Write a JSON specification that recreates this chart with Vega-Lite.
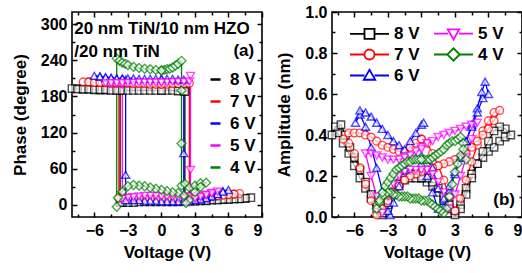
{
"$schema":"https://vega.github.io/schema/vega-lite/v6.json",
"background":"white",
"padding":{"left":10,"top":3,"right":0,"bottom":0},
"spacing":70,
"bounds":"flush",
"resolve":{"scale":{"color":"independent"},"legend":{"color":"independent"}},
"config":{
"font":"Liberation Sans",
"view":{"stroke":"black","strokeWidth":1.6},
"axis":{"grid":false,"domain":false,"labelFont":"Liberation Sans","labelFontSize":16,"labelFontWeight":"bold","labelColor":"black","titleFont":"Liberation Sans","titleFontSize":17,"titleFontWeight":"bold","titleColor":"black","tickColor":"black","tickWidth":1.5,"tickSize":-5,"labelPadding":10,"titlePadding":6},
"legend":{"labelFont":"Liberation Sans","labelFontSize":17,"labelFontWeight":"bold","labelColor":"black","padding":0}
},
"datasets":{
"pa":[
{"s":"8 V","v":0,"y":190},{"s":"8 V","v":0.5,"y":190},{"s":"8 V","v":1,"y":190},{"s":"8 V","v":1.5,"y":189},{"s":"8 V","v":2,"y":189},{"s":"8 V","v":2.1,"y":188},{"s":"8 V","v":2.1,"y":9},{"s":"8 V","v":2.5,"y":8},{"s":"8 V","v":3,"y":8},{"s":"8 V","v":3.5,"y":8},{"s":"8 V","v":4,"y":8},{"s":"8 V","v":4.5,"y":9},{"s":"8 V","v":5,"y":9},{"s":"8 V","v":5.5,"y":9},{"s":"8 V","v":6,"y":10},{"s":"8 V","v":6.5,"y":10},{"s":"8 V","v":7,"y":11},{"s":"8 V","v":7.5,"y":11},{"s":"8 V","v":8,"y":12},
{"s":"8 V","v":7.5,"y":11},{"s":"8 V","v":7,"y":10},{"s":"8 V","v":6.5,"y":10},{"s":"8 V","v":6,"y":9},{"s":"8 V","v":5.5,"y":9},{"s":"8 V","v":5,"y":8},{"s":"8 V","v":4.5,"y":8},{"s":"8 V","v":4,"y":7},{"s":"8 V","v":3.5,"y":7},{"s":"8 V","v":3,"y":6},{"s":"8 V","v":2.5,"y":6},{"s":"8 V","v":2,"y":6},{"s":"8 V","v":1.5,"y":5},{"s":"8 V","v":1,"y":5},{"s":"8 V","v":0.5,"y":5},{"s":"8 V","v":0,"y":5},{"s":"8 V","v":-0.5,"y":5},{"s":"8 V","v":-1,"y":5},{"s":"8 V","v":-1.5,"y":5},{"s":"8 V","v":-2,"y":5},{"s":"8 V","v":-2.5,"y":4},{"s":"8 V","v":-3,"y":4},{"s":"8 V","v":-3.5,"y":4},{"s":"8 V","v":-3.7,"y":4},{"s":"8 V","v":-3.7,"y":190},{"s":"8 V","v":-4,"y":191},{"s":"8 V","v":-4.5,"y":191},{"s":"8 V","v":-5,"y":191},{"s":"8 V","v":-5.5,"y":191},{"s":"8 V","v":-6,"y":192},{"s":"8 V","v":-6.5,"y":192},{"s":"8 V","v":-7,"y":192},{"s":"8 V","v":-7.5,"y":193},{"s":"8 V","v":-8,"y":193},
{"s":"8 V","v":-7.5,"y":192},{"s":"8 V","v":-7,"y":192},{"s":"8 V","v":-6.5,"y":192},{"s":"8 V","v":-6,"y":191},{"s":"8 V","v":-5.5,"y":191},{"s":"8 V","v":-5,"y":191},{"s":"8 V","v":-4.5,"y":190},{"s":"8 V","v":-4,"y":190},{"s":"8 V","v":-3.5,"y":190},{"s":"8 V","v":-3,"y":190},{"s":"8 V","v":-2.5,"y":190},{"s":"8 V","v":-2,"y":190},{"s":"8 V","v":-1.5,"y":190},{"s":"8 V","v":-1,"y":190},{"s":"8 V","v":-0.5,"y":190},{"s":"8 V","v":0,"y":190},
{"s":"7 V","v":0,"y":200},{"s":"7 V","v":0.5,"y":200},{"s":"7 V","v":1,"y":201},{"s":"7 V","v":1.5,"y":201},{"s":"7 V","v":2,"y":201},{"s":"7 V","v":2.5,"y":202},{"s":"7 V","v":2.5,"y":14},{"s":"7 V","v":3,"y":13},{"s":"7 V","v":3.5,"y":13},{"s":"7 V","v":4,"y":14},{"s":"7 V","v":4.5,"y":15},{"s":"7 V","v":5,"y":16},{"s":"7 V","v":5.5,"y":17},{"s":"7 V","v":6,"y":18},{"s":"7 V","v":6.5,"y":18},{"s":"7 V","v":7,"y":19},
{"s":"7 V","v":6.5,"y":18},{"s":"7 V","v":6,"y":17},{"s":"7 V","v":5.5,"y":16},{"s":"7 V","v":5,"y":15},{"s":"7 V","v":4.5,"y":14},{"s":"7 V","v":4,"y":13},{"s":"7 V","v":3.5,"y":12},{"s":"7 V","v":3,"y":12},{"s":"7 V","v":2.5,"y":11},{"s":"7 V","v":2,"y":11},{"s":"7 V","v":1.5,"y":10},{"s":"7 V","v":1,"y":10},{"s":"7 V","v":0.5,"y":10},{"s":"7 V","v":0,"y":10},{"s":"7 V","v":-0.5,"y":10},{"s":"7 V","v":-1,"y":10},{"s":"7 V","v":-1.5,"y":11},{"s":"7 V","v":-2,"y":11},{"s":"7 V","v":-2.5,"y":11},{"s":"7 V","v":-3,"y":11},{"s":"7 V","v":-3.5,"y":11},{"s":"7 V","v":-3.8,"y":11},{"s":"7 V","v":-3.8,"y":203},{"s":"7 V","v":-4,"y":203},{"s":"7 V","v":-4.5,"y":203},{"s":"7 V","v":-5,"y":203},{"s":"7 V","v":-5.5,"y":203},{"s":"7 V","v":-6,"y":203},{"s":"7 V","v":-6.5,"y":204},{"s":"7 V","v":-7,"y":204},
{"s":"7 V","v":-6.5,"y":204},{"s":"7 V","v":-6,"y":203},{"s":"7 V","v":-5.5,"y":203},{"s":"7 V","v":-5,"y":203},{"s":"7 V","v":-4.5,"y":202},{"s":"7 V","v":-4,"y":202},{"s":"7 V","v":-3.5,"y":202},{"s":"7 V","v":-3,"y":202},{"s":"7 V","v":-2.5,"y":201},{"s":"7 V","v":-2,"y":201},{"s":"7 V","v":-1.5,"y":201},{"s":"7 V","v":-1,"y":200},{"s":"7 V","v":-0.5,"y":200},{"s":"7 V","v":0,"y":200},
{"s":"6 V","v":0,"y":209},{"s":"6 V","v":0.5,"y":209},{"s":"6 V","v":1,"y":209},{"s":"6 V","v":1.5,"y":208},{"s":"6 V","v":2,"y":208},{"s":"6 V","v":2,"y":86},{"s":"6 V","v":2,"y":9},{"s":"6 V","v":2.5,"y":9},{"s":"6 V","v":3,"y":10},{"s":"6 V","v":3.5,"y":11},{"s":"6 V","v":4,"y":13},{"s":"6 V","v":4.5,"y":16},{"s":"6 V","v":5,"y":19},{"s":"6 V","v":5.5,"y":23},{"s":"6 V","v":6,"y":25},
{"s":"6 V","v":5.5,"y":22},{"s":"6 V","v":5,"y":18},{"s":"6 V","v":4.5,"y":14},{"s":"6 V","v":4,"y":11},{"s":"6 V","v":3.5,"y":9},{"s":"6 V","v":3,"y":8},{"s":"6 V","v":2.5,"y":7},{"s":"6 V","v":2,"y":6},{"s":"6 V","v":1.5,"y":6},{"s":"6 V","v":1,"y":6},{"s":"6 V","v":0.5,"y":6},{"s":"6 V","v":0,"y":6},{"s":"6 V","v":-0.5,"y":7},{"s":"6 V","v":-1,"y":7},{"s":"6 V","v":-1.5,"y":7},{"s":"6 V","v":-2,"y":8},{"s":"6 V","v":-2.5,"y":8},{"s":"6 V","v":-3,"y":8},{"s":"6 V","v":-3.2,"y":8},{"s":"6 V","v":-3.2,"y":50},{"s":"6 V","v":-3.2,"y":208},{"s":"6 V","v":-3.5,"y":209},{"s":"6 V","v":-4,"y":209},{"s":"6 V","v":-4.5,"y":210},{"s":"6 V","v":-5,"y":211},{"s":"6 V","v":-5.5,"y":213},{"s":"6 V","v":-6,"y":214},
{"s":"6 V","v":-5.5,"y":213},{"s":"6 V","v":-5,"y":212},{"s":"6 V","v":-4.5,"y":211},{"s":"6 V","v":-4,"y":210},{"s":"6 V","v":-3.5,"y":210},{"s":"6 V","v":-3,"y":210},{"s":"6 V","v":-2.5,"y":210},{"s":"6 V","v":-2,"y":209},{"s":"6 V","v":-1.5,"y":209},{"s":"6 V","v":-1,"y":209},{"s":"6 V","v":-0.5,"y":209},{"s":"6 V","v":0,"y":209},
{"s":"5 V","v":0,"y":203},{"s":"5 V","v":0.5,"y":203},{"s":"5 V","v":1,"y":204},{"s":"5 V","v":1.5,"y":204},{"s":"5 V","v":2,"y":204},{"s":"5 V","v":2.5,"y":205},{"s":"5 V","v":2.6,"y":214},{"s":"5 V","v":2.6,"y":58},{"s":"5 V","v":2.6,"y":14},{"s":"5 V","v":3,"y":13},{"s":"5 V","v":3.5,"y":15},{"s":"5 V","v":4,"y":17},{"s":"5 V","v":4.5,"y":20},{"s":"5 V","v":5,"y":22},
{"s":"5 V","v":4.5,"y":19},{"s":"5 V","v":4,"y":16},{"s":"5 V","v":3.5,"y":13},{"s":"5 V","v":3,"y":10},{"s":"5 V","v":2.5,"y":4},{"s":"5 V","v":2,"y":10},{"s":"5 V","v":1.5,"y":12},{"s":"5 V","v":1,"y":13},{"s":"5 V","v":0.5,"y":14},{"s":"5 V","v":0,"y":14},{"s":"5 V","v":-0.5,"y":15},{"s":"5 V","v":-1,"y":15},{"s":"5 V","v":-1.5,"y":15},{"s":"5 V","v":-2,"y":14},{"s":"5 V","v":-2.5,"y":13},{"s":"5 V","v":-3,"y":12},{"s":"5 V","v":-3.5,"y":10},{"s":"5 V","v":-3.5,"y":200},{"s":"5 V","v":-4,"y":201},{"s":"5 V","v":-4.5,"y":201},{"s":"5 V","v":-5,"y":202},
{"s":"5 V","v":-4.5,"y":202},{"s":"5 V","v":-4,"y":202},{"s":"5 V","v":-3.5,"y":202},{"s":"5 V","v":-3,"y":202},{"s":"5 V","v":-2.5,"y":202},{"s":"5 V","v":-2,"y":203},{"s":"5 V","v":-1.5,"y":203},{"s":"5 V","v":-1,"y":203},{"s":"5 V","v":-0.5,"y":203},{"s":"5 V","v":0,"y":203},
{"s":"4 V","v":0,"y":223},{"s":"4 V","v":0.25,"y":224},{"s":"4 V","v":0.5,"y":225},{"s":"4 V","v":0.75,"y":226},{"s":"4 V","v":1,"y":228},{"s":"4 V","v":1.25,"y":231},{"s":"4 V","v":1.5,"y":234},{"s":"4 V","v":1.8,"y":239},{"s":"4 V","v":1.8,"y":190},{"s":"4 V","v":1.8,"y":102},{"s":"4 V","v":1.8,"y":32},{"s":"4 V","v":2.1,"y":35},{"s":"4 V","v":2.5,"y":29},{"s":"4 V","v":3,"y":32},{"s":"4 V","v":3.5,"y":36},{"s":"4 V","v":4,"y":37},
{"s":"4 V","v":3.5,"y":30},{"s":"4 V","v":3,"y":21},{"s":"4 V","v":2.5,"y":8},{"s":"4 V","v":2.2,"y":3},{"s":"4 V","v":2,"y":16},{"s":"4 V","v":1.5,"y":20},{"s":"4 V","v":1,"y":21},{"s":"4 V","v":0.5,"y":23},{"s":"4 V","v":0,"y":25},{"s":"4 V","v":-0.5,"y":27},{"s":"4 V","v":-1,"y":29},{"s":"4 V","v":-1.5,"y":31},{"s":"4 V","v":-2,"y":32},{"s":"4 V","v":-2.5,"y":33},{"s":"4 V","v":-3,"y":31},{"s":"4 V","v":-3.5,"y":22},{"s":"4 V","v":-3.9,"y":12},{"s":"4 V","v":-4,"y":-3},{"s":"4 V","v":-4,"y":243},
{"s":"4 V","v":-3.75,"y":239},{"s":"4 V","v":-3.5,"y":236},{"s":"4 V","v":-3.25,"y":234},{"s":"4 V","v":-3,"y":232},{"s":"4 V","v":-2.5,"y":229},{"s":"4 V","v":-2,"y":227},{"s":"4 V","v":-1.5,"y":226},{"s":"4 V","v":-1,"y":225},{"s":"4 V","v":-0.5,"y":224},{"s":"4 V","v":0,"y":223}
],
"pb":[
{"s":"8 V","v":0,"y":0.19},{"s":"8 V","v":0.5,"y":0.17},{"s":"8 V","v":1,"y":0.15},{"s":"8 V","v":1.5,"y":0.12},{"s":"8 V","v":2,"y":0.08},{"s":"8 V","v":2.5,"y":0.04},{"s":"8 V","v":3,"y":0.01},{"s":"8 V","v":3.5,"y":0.06},{"s":"8 V","v":4,"y":0.14},{"s":"8 V","v":4.5,"y":0.21},{"s":"8 V","v":5,"y":0.26},{"s":"8 V","v":5.5,"y":0.29},{"s":"8 V","v":6,"y":0.32},{"s":"8 V","v":6.5,"y":0.34},{"s":"8 V","v":7,"y":0.37},{"s":"8 V","v":7.5,"y":0.39},{"s":"8 V","v":8,"y":0.4},
{"s":"8 V","v":7.5,"y":0.43},{"s":"8 V","v":7,"y":0.44},{"s":"8 V","v":6.5,"y":0.42},{"s":"8 V","v":6,"y":0.37},{"s":"8 V","v":5.5,"y":0.32},{"s":"8 V","v":5,"y":0.26},{"s":"8 V","v":4.5,"y":0.19},{"s":"8 V","v":4,"y":0.11},{"s":"8 V","v":3.5,"y":0.04},{"s":"8 V","v":3,"y":0.03},{"s":"8 V","v":2.5,"y":0.06},{"s":"8 V","v":2,"y":0.1},{"s":"8 V","v":1.5,"y":0.14},{"s":"8 V","v":1,"y":0.17},{"s":"8 V","v":0.5,"y":0.19},{"s":"8 V","v":0,"y":0.2},{"s":"8 V","v":-0.5,"y":0.21},{"s":"8 V","v":-1,"y":0.21},{"s":"8 V","v":-1.5,"y":0.19},{"s":"8 V","v":-2,"y":0.16},{"s":"8 V","v":-2.5,"y":0.11},{"s":"8 V","v":-3,"y":0.06},{"s":"8 V","v":-3.5,"y":0.01},{"s":"8 V","v":-4,"y":0.04},{"s":"8 V","v":-4.5,"y":0.09},{"s":"8 V","v":-5,"y":0.14},{"s":"8 V","v":-5.5,"y":0.19},{"s":"8 V","v":-6,"y":0.25},{"s":"8 V","v":-6.5,"y":0.31},{"s":"8 V","v":-7,"y":0.36},{"s":"8 V","v":-7.5,"y":0.41},{"s":"8 V","v":-8,"y":0.4},
{"s":"8 V","v":-7.7,"y":0.44},{"s":"8 V","v":-7.2,"y":0.45},{"s":"8 V","v":-6.8,"y":0.4},{"s":"8 V","v":-6.4,"y":0.34},{"s":"8 V","v":-6,"y":0.29},{"s":"8 V","v":-5.5,"y":0.23},{"s":"8 V","v":-5,"y":0.17},{"s":"8 V","v":-4.5,"y":0.11},{"s":"8 V","v":-4,"y":0.06},{"s":"8 V","v":-3.5,"y":0.02},{"s":"8 V","v":-3,"y":0.07},{"s":"8 V","v":-2.5,"y":0.12},{"s":"8 V","v":-2,"y":0.16},{"s":"8 V","v":-1.5,"y":0.18},{"s":"8 V","v":-1,"y":0.19},{"s":"8 V","v":-0.5,"y":0.19},{"s":"8 V","v":0,"y":0.19},
{"s":"7 V","v":0,"y":0.38},{"s":"7 V","v":0.5,"y":0.36},{"s":"7 V","v":1,"y":0.31},{"s":"7 V","v":1.5,"y":0.25},{"s":"7 V","v":2,"y":0.18},{"s":"7 V","v":2.5,"y":0.1},{"s":"7 V","v":3,"y":0.03},{"s":"7 V","v":3.5,"y":0.09},{"s":"7 V","v":4,"y":0.18},{"s":"7 V","v":4.5,"y":0.27},{"s":"7 V","v":5,"y":0.35},{"s":"7 V","v":5.5,"y":0.42},{"s":"7 V","v":6,"y":0.47},{"s":"7 V","v":6.5,"y":0.51},{"s":"7 V","v":7,"y":0.52},
{"s":"7 V","v":6.5,"y":0.47},{"s":"7 V","v":6,"y":0.43},{"s":"7 V","v":5.5,"y":0.4},{"s":"7 V","v":5,"y":0.37},{"s":"7 V","v":4.5,"y":0.34},{"s":"7 V","v":4,"y":0.31},{"s":"7 V","v":3.5,"y":0.29},{"s":"7 V","v":3,"y":0.28},{"s":"7 V","v":2.5,"y":0.27},{"s":"7 V","v":2,"y":0.26},{"s":"7 V","v":1.5,"y":0.25},{"s":"7 V","v":1,"y":0.24},{"s":"7 V","v":0.5,"y":0.23},{"s":"7 V","v":0,"y":0.22},{"s":"7 V","v":-0.5,"y":0.21},{"s":"7 V","v":-1,"y":0.2},{"s":"7 V","v":-1.5,"y":0.18},{"s":"7 V","v":-2,"y":0.15},{"s":"7 V","v":-2.5,"y":0.12},{"s":"7 V","v":-3,"y":0.08},{"s":"7 V","v":-3.5,"y":0.04},{"s":"7 V","v":-4,"y":0.01},{"s":"7 V","v":-4.5,"y":0.08},{"s":"7 V","v":-5,"y":0.16},{"s":"7 V","v":-5.5,"y":0.24},{"s":"7 V","v":-6,"y":0.31},{"s":"7 V","v":-6.5,"y":0.36},{"s":"7 V","v":-7,"y":0.38},
{"s":"7 V","v":-6.5,"y":0.41},{"s":"7 V","v":-6,"y":0.41},{"s":"7 V","v":-5.5,"y":0.41},{"s":"7 V","v":-5,"y":0.4},{"s":"7 V","v":-4.5,"y":0.39},{"s":"7 V","v":-4,"y":0.37},{"s":"7 V","v":-3.5,"y":0.35},{"s":"7 V","v":-3,"y":0.34},{"s":"7 V","v":-2.5,"y":0.33},{"s":"7 V","v":-2,"y":0.32},{"s":"7 V","v":-1.5,"y":0.32},{"s":"7 V","v":-1,"y":0.34},{"s":"7 V","v":-0.5,"y":0.36},{"s":"7 V","v":0,"y":0.38},
{"s":"6 V","v":0,"y":0.3},{"s":"6 V","v":0.5,"y":0.28},{"s":"6 V","v":1,"y":0.24},{"s":"6 V","v":1.5,"y":0.14},{"s":"6 V","v":2,"y":0.05},{"s":"6 V","v":2.5,"y":0.13},{"s":"6 V","v":3,"y":0.21},{"s":"6 V","v":3.5,"y":0.29},{"s":"6 V","v":4,"y":0.37},{"s":"6 V","v":4.5,"y":0.45},{"s":"6 V","v":5,"y":0.53},{"s":"6 V","v":5.4,"y":0.61},{"s":"6 V","v":5.7,"y":0.66},{"s":"6 V","v":6,"y":0.6},
{"s":"6 V","v":5.5,"y":0.58},{"s":"6 V","v":5,"y":0.51},{"s":"6 V","v":4.5,"y":0.44},{"s":"6 V","v":4,"y":0.37},{"s":"6 V","v":3.5,"y":0.29},{"s":"6 V","v":3,"y":0.22},{"s":"6 V","v":2.5,"y":0.15},{"s":"6 V","v":2,"y":0.09},{"s":"6 V","v":1.5,"y":0.04},{"s":"6 V","v":1,"y":0.12},{"s":"6 V","v":0.5,"y":0.2},{"s":"6 V","v":0,"y":0.26},{"s":"6 V","v":-0.5,"y":0.29},{"s":"6 V","v":-1,"y":0.28},{"s":"6 V","v":-1.5,"y":0.23},{"s":"6 V","v":-2,"y":0.15},{"s":"6 V","v":-2.5,"y":0.07},{"s":"6 V","v":-2.8,"y":0.01},{"s":"6 V","v":-3,"y":0.03},{"s":"6 V","v":-3.5,"y":0.13},{"s":"6 V","v":-4,"y":0.24},{"s":"6 V","v":-4.5,"y":0.34},{"s":"6 V","v":-5,"y":0.44},{"s":"6 V","v":-5.5,"y":0.5},{"s":"6 V","v":-5.9,"y":0.46},
{"s":"6 V","v":-5.5,"y":0.52},{"s":"6 V","v":-5,"y":0.51},{"s":"6 V","v":-4.5,"y":0.49},{"s":"6 V","v":-4,"y":0.46},{"s":"6 V","v":-3.5,"y":0.43},{"s":"6 V","v":-3,"y":0.4},{"s":"6 V","v":-2.5,"y":0.37},{"s":"6 V","v":-2,"y":0.35},{"s":"6 V","v":-1.5,"y":0.33},{"s":"6 V","v":-1,"y":0.37},{"s":"6 V","v":-0.5,"y":0.41},{"s":"6 V","v":0,"y":0.45},{"s":"6 V","v":0.2,"y":0.46},
{"s":"5 V","v":0,"y":0.34},{"s":"5 V","v":0.5,"y":0.36},{"s":"5 V","v":1,"y":0.37},{"s":"5 V","v":1.5,"y":0.39},{"s":"5 V","v":2,"y":0.4},{"s":"5 V","v":2.5,"y":0.41},{"s":"5 V","v":3,"y":0.42},{"s":"5 V","v":3.5,"y":0.43},{"s":"5 V","v":4,"y":0.44},{"s":"5 V","v":4.5,"y":0.45},{"s":"5 V","v":5,"y":0.46},
{"s":"5 V","v":4.5,"y":0.38},{"s":"5 V","v":4,"y":0.29},{"s":"5 V","v":3.5,"y":0.2},{"s":"5 V","v":3,"y":0.11},{"s":"5 V","v":2.5,"y":0.04},{"s":"5 V","v":2,"y":0.12},{"s":"5 V","v":1.5,"y":0.17},{"s":"5 V","v":1,"y":0.21},{"s":"5 V","v":0.5,"y":0.23},{"s":"5 V","v":0,"y":0.23},{"s":"5 V","v":-0.5,"y":0.23},{"s":"5 V","v":-1,"y":0.23},{"s":"5 V","v":-1.5,"y":0.22},{"s":"5 V","v":-2,"y":0.2},{"s":"5 V","v":-2.5,"y":0.16},{"s":"5 V","v":-3,"y":0.1},{"s":"5 V","v":-3.5,"y":0.02},{"s":"5 V","v":-4,"y":0.1},{"s":"5 V","v":-4.5,"y":0.2},{"s":"5 V","v":-5,"y":0.31},
{"s":"5 V","v":-4.5,"y":0.31},{"s":"5 V","v":-4,"y":0.3},{"s":"5 V","v":-3.5,"y":0.29},{"s":"5 V","v":-3,"y":0.28},{"s":"5 V","v":-2.5,"y":0.28},{"s":"5 V","v":-2,"y":0.28},{"s":"5 V","v":-1.5,"y":0.29},{"s":"5 V","v":-1,"y":0.3},{"s":"5 V","v":-0.5,"y":0.32},{"s":"5 V","v":0,"y":0.33},
{"s":"4 V","v":0,"y":0.28},{"s":"4 V","v":0.25,"y":0.28},{"s":"4 V","v":0.5,"y":0.28},{"s":"4 V","v":0.75,"y":0.28},{"s":"4 V","v":1,"y":0.29},{"s":"4 V","v":1.25,"y":0.3},{"s":"4 V","v":1.5,"y":0.31},{"s":"4 V","v":1.75,"y":0.32},{"s":"4 V","v":2,"y":0.33},{"s":"4 V","v":2.25,"y":0.35},{"s":"4 V","v":2.5,"y":0.36},{"s":"4 V","v":2.75,"y":0.37},{"s":"4 V","v":3,"y":0.37},{"s":"4 V","v":3.25,"y":0.38},{"s":"4 V","v":3.5,"y":0.39},{"s":"4 V","v":3.75,"y":0.36},{"s":"4 V","v":4,"y":0.28},
{"s":"4 V","v":3.75,"y":0.33},{"s":"4 V","v":3.5,"y":0.3},{"s":"4 V","v":3.25,"y":0.26},{"s":"4 V","v":3,"y":0.22},{"s":"4 V","v":2.75,"y":0.16},{"s":"4 V","v":2.5,"y":0.1},{"s":"4 V","v":2.25,"y":0.04},{"s":"4 V","v":2,"y":0.02},{"s":"4 V","v":1.75,"y":0.03},{"s":"4 V","v":1.5,"y":0.04},{"s":"4 V","v":1.25,"y":0.05},{"s":"4 V","v":1,"y":0.06},{"s":"4 V","v":0.75,"y":0.07},{"s":"4 V","v":0.5,"y":0.08},{"s":"4 V","v":0.25,"y":0.08},{"s":"4 V","v":0,"y":0.08},{"s":"4 V","v":-0.25,"y":0.09},{"s":"4 V","v":-0.5,"y":0.09},{"s":"4 V","v":-0.75,"y":0.09},{"s":"4 V","v":-1,"y":0.09},{"s":"4 V","v":-1.25,"y":0.1},{"s":"4 V","v":-1.5,"y":0.1},{"s":"4 V","v":-1.75,"y":0.1},{"s":"4 V","v":-2,"y":0.1},{"s":"4 V","v":-2.25,"y":0.11},{"s":"4 V","v":-2.5,"y":0.11},{"s":"4 V","v":-2.75,"y":0.12},{"s":"4 V","v":-3,"y":0.12},{"s":"4 V","v":-3.25,"y":0.11},{"s":"4 V","v":-3.5,"y":0.1},{"s":"4 V","v":-3.75,"y":0.07},{"s":"4 V","v":-4,"y":0.04},
{"s":"4 V","v":-3.75,"y":0.08},{"s":"4 V","v":-3.5,"y":0.12},{"s":"4 V","v":-3.25,"y":0.15},{"s":"4 V","v":-3,"y":0.17},{"s":"4 V","v":-2.75,"y":0.19},{"s":"4 V","v":-2.5,"y":0.21},{"s":"4 V","v":-2.25,"y":0.23},{"s":"4 V","v":-2,"y":0.24},{"s":"4 V","v":-1.75,"y":0.25},{"s":"4 V","v":-1.5,"y":0.26},{"s":"4 V","v":-1.25,"y":0.27},{"s":"4 V","v":-1,"y":0.27},{"s":"4 V","v":-0.75,"y":0.28},{"s":"4 V","v":-0.5,"y":0.28},{"s":"4 V","v":-0.25,"y":0.28},{"s":"4 V","v":0,"y":0.28}
]
},
"hconcat":[
{
"width":190,"height":205,
"data":{"name":"pa"},
"resolve":{"axis":{"x":"independent","y":"independent"}},
"layer":[
{"mark":{"type":"line","strokeWidth":1.3},
"encoding":{
"x":{"field":"v","type":"quantitative","scale":{"domain":[-8,9],"nice":false,"zero":false},"axis":{"orient":"bottom","values":[-6,-3,0,3,6,9],"title":"Voltage (V)"}},
"y":{"field":"y","type":"quantitative","scale":{"domain":[-20,320],"nice":false,"zero":false},"axis":{"orient":"left","values":[0,60,120,180,240,300],"title":"Phase (degree)","titlePadding":11}},
"color":{"field":"s","type":"nominal","scale":{"domain":["8 V","7 V","6 V","5 V","4 V"],"range":["#000000","#ff0000","#0000ff","#ff00ff","#008000"]},
"legend":{"orient":"none","legendX":135,"legendY":59,"title":null,"columns":1,"direction":"vertical","symbolType":"stroke","symbolSize":100,"symbolStrokeWidth":2.5,"labelOffset":6,"rowPadding":4}},
"order":{"value":null}}},
{"transform":[{"filter":"datum.s === '8 V'"}],
"mark":{"type":"point","shape":"square","size":55,"filled":false,"fill":"white","stroke":"#000000","strokeWidth":1.4},
"encoding":{
"x":{"field":"v","type":"quantitative","axis":{"orient":"top","values":[-6,-3,0,3,6,9],"labels":false,"title":null}},
"y":{"field":"y","type":"quantitative","axis":{"orient":"right","values":[0,60,120,180,240,300],"labels":false,"title":null}}}},
{"transform":[{"filter":"datum.s === '7 V'"}],
"mark":{"type":"point","shape":"circle","size":60,"filled":false,"fill":"white","stroke":"#ff0000","strokeWidth":1.4},
"encoding":{"x":{"field":"v","type":"quantitative","axis":null},"y":{"field":"y","type":"quantitative","axis":null}}},
{"transform":[{"filter":"datum.s === '6 V'"}],
"mark":{"type":"point","shape":"triangle-up","size":65,"filled":false,"fill":"white","stroke":"#0000ff","strokeWidth":1.4},
"encoding":{"x":{"field":"v","type":"quantitative","axis":null},"y":{"field":"y","type":"quantitative","axis":null}}},
{"transform":[{"filter":"datum.s === '5 V'"}],
"mark":{"type":"point","shape":"triangle-down","size":65,"filled":false,"fill":"white","stroke":"#ff00ff","strokeWidth":1.4},
"encoding":{"x":{"field":"v","type":"quantitative","axis":null},"y":{"field":"y","type":"quantitative","axis":null}}},
{"transform":[{"filter":"datum.s === '4 V'"}],
"mark":{"type":"point","shape":"diamond","size":80,"filled":false,"fill":"white","stroke":"#008000","strokeWidth":1.4},
"encoding":{"x":{"field":"v","type":"quantitative","axis":null},"y":{"field":"y","type":"quantitative","axis":null}}},
{"transform":[{"filter":"false"}],
"mark":{"type":"point"},
"encoding":{
"x":{"field":"v","type":"quantitative","axis":{"orient":"bottom","values":[-7.5,-4.5,-1.5,1.5,4.5,7.5],"labels":false,"title":null,"tickSize":-3}},
"y":{"field":"y","type":"quantitative","axis":{"orient":"left","values":[30,90,150,210,270],"labels":false,"title":null,"tickSize":-3}}}},
{"data":{"values":[{}]},
"mark":{"type":"text","text":["20 nm TiN/10 nm HZO","/20 nm TiN"],"align":"left","baseline":"middle","lineHeight":23,"fontSize":17,"fontWeight":"bold","font":"Liberation Sans","color":"black"},
"encoding":{
"x":{"datum":-7.8,"type":"quantitative","axis":{"orient":"top","values":[-7.5,-4.5,-1.5,1.5,4.5,7.5],"labels":false,"title":null,"tickSize":-3}},
"y":{"datum":292,"type":"quantitative","axis":{"orient":"right","values":[30,90,150,210,270],"labels":false,"title":null,"tickSize":-3}}}},
{"data":{"values":[{}]},
"mark":{"type":"text","text":"(a)","align":"right","baseline":"middle","fontSize":17,"fontWeight":"bold","font":"Liberation Sans","color":"black"},
"encoding":{
"x":{"datum":8.3,"type":"quantitative","axis":null},
"y":{"datum":255,"type":"quantitative","axis":null}}}
]
},
{
"width":190,"height":205,
"data":{"name":"pb"},
"resolve":{"axis":{"x":"independent","y":"independent"}},
"layer":[
{"mark":{"type":"line","strokeWidth":1.3},
"encoding":{
"x":{"field":"v","type":"quantitative","scale":{"domain":[-8,9],"nice":false,"zero":false},"axis":{"orient":"bottom","values":[-6,-3,0,3,6,9],"title":"Voltage (V)"}},
"y":{"field":"y","type":"quantitative","scale":{"domain":[0,1],"nice":false,"zero":false},"axis":{"orient":"left","values":[0,0.2,0.4,0.6,0.8,1],"format":".1f","title":"Amplitude (nm)","titlePadding":11}},
"color":{"field":"s","type":"nominal","scale":{"domain":["8 V","7 V","6 V","5 V","4 V"],"range":["#000000","#ff0000","#0000ff","#ff00ff","#008000"]},
"legend":{"orient":"none","legendX":29,"legendY":13,"title":null,"columns":2,"symbolSize":100,"symbolStrokeWidth":1.8,"labelOffset":16,"rowPadding":1,"columnPadding":10,
"encode":{"symbols":{"update":{"fill":{"value":"white"},"shape":{"signal":"datum.value === '8 V' ? 'M-3.9,0H-1M1,0H3.9M-1,-1H1V1H-1Z' : datum.value === '7 V' ? 'M-3.9,0H-1M1,0H3.9M-1,0A1,1,0,1,1,1,0A1,1,0,1,1,-1,0Z' : datum.value === '6 V' ? 'M-3.9,0H-1M1,0H3.9M0,-1.15L1.15,0.85H-1.15Z' : datum.value === '5 V' ? 'M-3.9,0H-1.1M1.1,0H3.9M-1.15,-0.85H1.15L0,1.15Z' : 'M-3.9,0H-1.25M1.25,0H3.9M0,-1.25L1.25,0L0,1.25L-1.25,0Z'"}}}}}},
"order":{"value":null}}},
{"transform":[{"filter":"datum.s === '8 V'"}],
"mark":{"type":"point","shape":"square","size":55,"filled":false,"fill":"white","stroke":"#000000","strokeWidth":1.4},
"encoding":{
"x":{"field":"v","type":"quantitative","axis":{"orient":"top","values":[-6,-3,0,3,6,9],"labels":false,"title":null}},
"y":{"field":"y","type":"quantitative","axis":{"orient":"right","values":[0,0.2,0.4,0.6,0.8,1],"labels":false,"title":null}}}},
{"transform":[{"filter":"datum.s === '7 V'"}],
"mark":{"type":"point","shape":"circle","size":60,"filled":false,"fill":"white","stroke":"#ff0000","strokeWidth":1.4},
"encoding":{"x":{"field":"v","type":"quantitative","axis":null},"y":{"field":"y","type":"quantitative","axis":null}}},
{"transform":[{"filter":"datum.s === '6 V'"}],
"mark":{"type":"point","shape":"triangle-up","size":65,"filled":false,"fill":"white","stroke":"#0000ff","strokeWidth":1.4},
"encoding":{"x":{"field":"v","type":"quantitative","axis":null},"y":{"field":"y","type":"quantitative","axis":null}}},
{"transform":[{"filter":"datum.s === '5 V'"}],
"mark":{"type":"point","shape":"triangle-down","size":65,"filled":false,"fill":"white","stroke":"#ff00ff","strokeWidth":1.4},
"encoding":{"x":{"field":"v","type":"quantitative","axis":null},"y":{"field":"y","type":"quantitative","axis":null}}},
{"transform":[{"filter":"datum.s === '4 V'"}],
"mark":{"type":"point","shape":"diamond","size":80,"filled":false,"fill":"white","stroke":"#008000","strokeWidth":1.4},
"encoding":{"x":{"field":"v","type":"quantitative","axis":null},"y":{"field":"y","type":"quantitative","axis":null}}},
{"transform":[{"filter":"false"}],
"mark":{"type":"point"},
"encoding":{
"x":{"field":"v","type":"quantitative","axis":{"orient":"bottom","values":[-7.5,-4.5,-1.5,1.5,4.5,7.5],"labels":false,"title":null,"tickSize":-3}},
"y":{"field":"y","type":"quantitative","axis":{"orient":"left","values":[0.1,0.3,0.5,0.7,0.9],"labels":false,"title":null,"tickSize":-3}}}},
{"data":{"values":[{}]},
"mark":{"type":"text","text":"(b)","align":"right","baseline":"middle","fontSize":17,"fontWeight":"bold","font":"Liberation Sans","color":"black"},
"encoding":{
"x":{"datum":8.37,"type":"quantitative","axis":{"orient":"top","values":[-7.5,-4.5,-1.5,1.5,4.5,7.5],"labels":false,"title":null,"tickSize":-3}},
"y":{"datum":0.083,"type":"quantitative","axis":{"orient":"right","values":[0.1,0.3,0.5,0.7,0.9],"labels":false,"title":null,"tickSize":-3}}}}
]
}
]
}
